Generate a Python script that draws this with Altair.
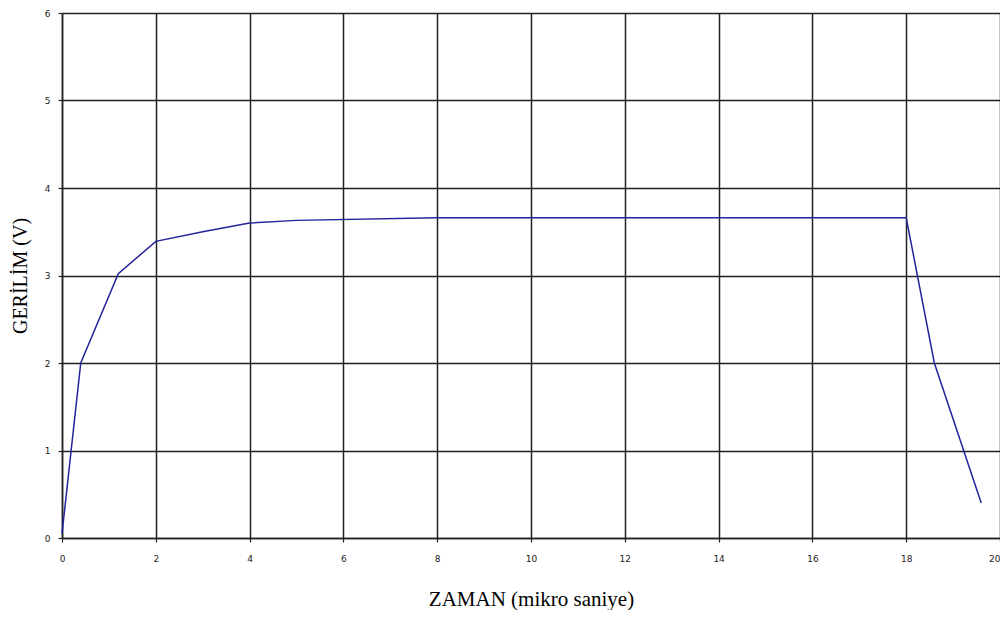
import altair as alt
import pandas as pd

zaman = [0, 0.4, 1.2, 2.0, 3.0, 4.0, 5.0, 8.0, 18.0, 18.6, 19.6]
gerilim = [0.05, 2.0, 3.02, 3.39, 3.5, 3.6, 3.63, 3.66, 3.66, 2.0, 0.4]

df = pd.DataFrame({"t": zaman, "v": gerilim})

x_ticks = list(range(0, 21, 2))
y_ticks = list(range(0, 7))

line = alt.Chart(df).mark_line(color="#23239b", strokeWidth=1.5).encode(
    x=alt.X("t:Q",
            scale=alt.Scale(domain=[0, 20], nice=False, zero=False),
            axis=alt.Axis(values=x_ticks, title="ZAMAN (mikro saniye)",
                          labelFont="DejaVu Sans", labelFontSize=9, labelColor="#222",
                          labelFlush=False,
                          labelAlign=alt.expr("datum.value == 20 ? 'right' : 'center'"),
                          tickSize=4, labelPadding=12,
                          titleFont="Liberation Serif", titleFontSize=21,
                          titleFontWeight="normal", titleColor="#000",
                          titleBaseline="alphabetic", titleY=67,
                          domainColor="#222", tickColor="#222",
                          gridColor="#222", gridWidth=1.5, domainWidth=1.5,
                          tickWidth=1.2)),
    y=alt.Y("v:Q",
            scale=alt.Scale(domain=[0, 6], nice=False),
            axis=alt.Axis(values=y_ticks, title="GERİLİM (V)",
                          labelFont="DejaVu Sans", labelFontSize=9, labelColor="#222",
                          labelFlush=False,
                          tickSize=4, labelPadding=8, titlePadding=14,
                          titleFont="Liberation Serif", titleFontSize=20,
                          titleFontWeight="normal", titleColor="#000",
                          domainColor="#222", tickColor="#222",
                          gridColor="#222", gridWidth=1.5, domainWidth=1.5,
                          tickWidth=1.2)),
)

chart = line.properties(
    width=938, height=525,
    autosize=alt.AutoSizeParams(type="none"),
    padding={"left": 54, "top": 5, "right": 0, "bottom": 72},
).configure_view(stroke="#222", strokeWidth=1.5).configure(background="white")

chart.save("out.html", embed_options={"renderer": "svg", "actions": False})
